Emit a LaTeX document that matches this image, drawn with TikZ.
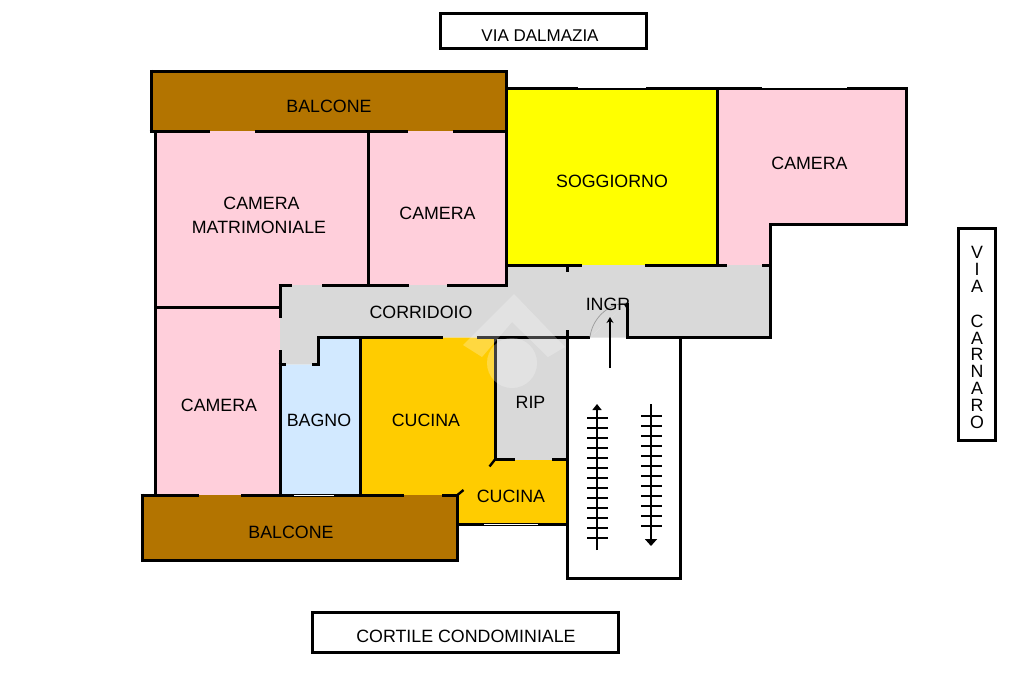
\documentclass[tikz,border=0pt]{standalone}
\usepackage{fontspec}
\usetikzlibrary{arrows.meta}
\setmainfont{Liberation Sans}
\definecolor{cpink}{HTML}{FFCFDB}
\definecolor{cyel}{HTML}{FFFF00}
\definecolor{cgray}{HTML}{D9D9D9}
\definecolor{corg}{HTML}{FFCC00}
\definecolor{cbrown}{HTML}{B37400}
\definecolor{cblue}{HTML}{D2E9FF}
\tikzset{
  wall/.style={line width=3pt,line cap=butt,line join=miter,black},
  thin wall/.style={line width=2.4pt,black},
  window/.style={line width=1pt,white},
  lab/.style={font=\fontsize{17.8}{24}\selectfont,align=center,inner sep=0pt,text=black},
  signbox/.style={draw=black,line width=3pt,fill=white,inner sep=0pt},
  stairline/.style={line width=2pt,black},
  stairtick/.style={line width=1.1pt,black},
  door/.style={line width=.7pt,gray!80}
}
\begin{document}
\begin{tikzpicture}[x=1pt,y=-1pt]
\useasboundingbox (0,0) rectangle (1024,682);
\fill[white] (0,0) rectangle (1024,682);
% fills
\fill[cpink] (155.5,131) rectangle (368.5,307.5);
\fill[cpink] (155.5,285) -- (506.5,285) -- (506.5,131) -- (368,131) -- cycle;
\fill[cpink] (155.5,307.5) rectangle (280,495);
\fill[cyel] (506.5,88.5) rectangle (717.5,265);
\fill[cpink] (717.5,88.5) -- (906.5,88.5) -- (906.5,224.5) -- (770,224.5) -- (770,265) -- (717.5,265) -- cycle;
\fill[cgray] (280,285) -- (506.5,285) -- (506.5,265) -- (770,265) -- (770,337.5) -- (627,337.5) -- (627,303) -- (590,337.5) -- (318,337.5) -- (318,364.5) -- (280,364.5) -- cycle;
\fill[cgray] (590,337.5) -- (627,337.5) -- (627,303) -- cycle;
\fill[cblue] (280,364.5) -- (318,364.5) -- (318,337.5) -- (360.5,337.5) -- (360.5,495) -- (280,495) -- cycle;
\fill[corg] (360.5,337.5) -- (495,337.5) -- (495,459.5) -- (567.5,459.5) -- (567.5,524) -- (457.5,524) -- (457.5,495) -- (360.5,495) -- cycle;
\fill[cgray] (495,337.5) rectangle (567.5,459.5);
\fill[cbrown] (151,71.5) rectangle (506.5,131);
\fill[cbrown] (142,495) rectangle (457.5,560);
% walls
\draw[wall] (151,71.5) -- (506.5,71.5) -- (506.5,131);
\draw[wall] (151,70) -- (151,132.5);
\draw[wall] (149.5,131) -- (210,131) (255,131) -- (408,131) (453,131) -- (506.5,131);
\draw[wall] (155.5,131) -- (155.5,495);
\draw[wall] (368.5,131) -- (368.5,285);
\draw[wall] (506.5,88.5) -- (506.5,286.5);
\draw[wall] (155.5,307.5) -- (281,307.5);
\draw[wall] (278.5,285) -- (292,285) (322,285) -- (409,285) (447,285) -- (508,285);
\draw[wall] (280,285) -- (280,318) (280,350) -- (280,495);
\draw[wall] (505,88.5) -- (906.5,88.5) -- (906.5,224.5) -- (770,224.5) -- (770,337.5) -- (627,337.5) -- (627,303);
\draw[wall] (717.5,88.5) -- (717.5,265);
\draw[wall] (506.5,265) -- (582,265) (645,265) -- (727,265) (762,265) -- (771,265);
\draw[wall] (567.5,265) -- (567.5,272);
\draw[wall] (318,337.5) -- (443,337.5) (477,337.5) -- (590,337.5);
\draw[wall] (318,336) -- (318,364.5);
\draw[wall] (278.5,364.5) -- (286,364.5) (312,364.5) -- (319.5,364.5);
\draw[wall] (360.5,337.5) -- (360.5,495);
\draw[wall] (495,337.5) -- (495,461);
\draw[wall] (495,459.5) -- (515,459.5) (552,459.5) -- (567.5,459.5);
\draw[thin wall] (495,459.5) -- (489.5,466.5);
\draw[wall] (567.5,330) -- (567.5,578.5) -- (680.5,578.5) -- (680.5,337.5);
\draw[wall] (457.5,524) -- (567.5,524);
% bottom balcony
\draw[wall] (142,493.5) -- (142,560) -- (457.5,560) -- (457.5,493.5);
\draw[wall] (140.5,495) -- (198.5,495) (241,495) -- (404,495) (442,495) -- (459,495);
\draw[thin wall] (457.5,495) -- (463.5,490);
% windows
\draw[window,line width=.7pt] (578,87.1) -- (646,87.1) (762,87.1) -- (847,87.1);
\draw[window] (294,495) -- (334,495);
\draw[window] (484,524) -- (538,524);
% door
\draw[door] (590,337) .. controls (592,320) and (606,304) .. (627,303);
% stairs
\coordinate (arrowtail) at (610,368);
\coordinate (arrowhead) at (610,317);
\draw[stairline,-{Stealth[length=6pt,width=7pt]}] (arrowtail) -- (arrowhead);
\coordinate (upA) at (597,550);
\coordinate (upB) at (597,404);
\coordinate (dnA) at (651,404);
\coordinate (dnB) at (651,546);
\draw[stairline,-{Triangle[length=6pt,width=9pt]}] (upA) -- (upB);
\draw[stairline,-{Triangle[length=7pt,width=12pt]}] (dnA) -- (dnB);
\foreach \y in {418,428,...,538} \draw[stairtick] (587,\y) -- (608,\y);
\foreach \y in {416,426,...,526} \draw[stairtick] (641,\y) -- (662,\y);
% labels
\node[lab] (balconeA) at (329,106) {BALCONE};
\node[lab] (matr) at (259,215) {\hspace*{5pt}CAMERA\\MATRIMONIALE};
\node[lab] (camA) at (437.5,213) {CAMERA};
\node[lab] (sogg) at (612,181) {SOGGIORNO};
\node[lab] (camB) at (809.5,163) {CAMERA};
\node[lab] (corr) at (421,312) {CORRIDOIO};
\node[lab] (ingr) at (608,304) {INGR};
\node[lab] (camC) at (219,405) {CAMERA};
\node[lab] (bagno) at (319,420) {BAGNO};
\node[lab] (cucA) at (426,420) {CUCINA};
\node[lab] (rip) at (530.5,402) {RIP};
\node[lab] (cucB) at (511,496) {CUCINA};
\node[lab] (balconeB) at (291,532) {BALCONE};
% signs
\node[signbox,minimum width=206pt,minimum height=35pt] (dalm) at (543,31.5) {};
\node[lab,font=\fontsize{17}{24}\selectfont] (dalmT) at (540,36) {VIA DALMAZIA};
\node[signbox,minimum width=306pt,minimum height=40pt] (cort) at (465.5,632.5) {};
\node[lab] (cortT) at (466,636) {CORTILE CONDOMINIALE};
\node[signbox,minimum width=36.5pt,minimum height=212pt] (carn) at (977,334) {};
\foreach \c/\y in {V/252,I/269,A/286,C/321,A/338,R/354,N/371,A/388,R/405,O/422}
  \node[lab] at (977,\y) {\c};
% watermark
\begin{scope}[opacity=.25]
\fill[white] (514,294) -- (565,347) -- (548,357) -- (512,322) -- (482,357) -- (463,345) -- cycle;
\fill[white] (512,363) circle (25);
\end{scope}
\end{tikzpicture}
\end{document}
